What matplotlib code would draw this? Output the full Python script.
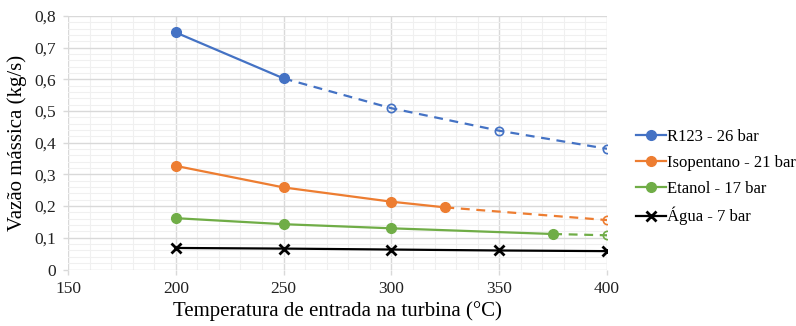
import matplotlib
matplotlib.use("Agg")
import matplotlib.pyplot as plt
from matplotlib.ticker import MultipleLocator, FuncFormatter
from matplotlib.lines import Line2D

plt.rcParams['font.family'] = ['Liberation Serif', 'DejaVu Serif']

labels = ["R123 - 26 bar", "Isopentano - 21 bar", "Etanol - 17 bar", "Água - 7 bar"]
colors = ["#4472c4", "#ed7d31", "#70ad47", "#000000"]

r123_x = [200, 250, 300, 350, 400]
r123_y = [0.748, 0.603, 0.509, 0.438, 0.381]
r123_solid = 2

iso_x = [200, 250, 300, 325, 400]
iso_y = [0.327, 0.259, 0.214, 0.196, 0.156]
iso_solid = 4

eta_x = [200, 250, 300, 375, 400]
eta_y = [0.162, 0.143, 0.130, 0.112, 0.108]
eta_solid = 4

agua_x = [200, 250, 300, 350, 400]
agua_y = [0.068, 0.066, 0.063, 0.060, 0.058]
agua_solid = 5

series = [(r123_x, r123_y, r123_solid), (iso_x, iso_y, iso_solid),
          (eta_x, eta_y, eta_solid), (agua_x, agua_y, agua_solid)]

fig = plt.figure(figsize=(7.96, 3.26), dpi=100)
ax = fig.add_axes([0.0854, 0.1733, 0.6772, 0.7776])

for (xs, ys, ns), c, lab in zip(series, colors, labels):
    marker = 'x' if c == "#000000" else 'o'
    mew = 1 if marker == 'o' else 2
    if ns < len(xs):
        ax.plot(xs[ns-1:], ys[ns-1:], color=c, lw=1.6, ls=(0, (4, 3)), zorder=3)
        ax.plot(xs[ns:], ys[ns:], ls='none', marker='o', ms=6, mfc='none',
                mec=c, mew=1.2, zorder=4)
    ax.plot(xs[:ns], ys[:ns], color=c, lw=1.6, marker=marker, ms=7,
            mew=mew, zorder=5)

ax.set_xlim(150, 400)
ax.set_ylim(0, 0.8)
ax.xaxis.set_major_locator(MultipleLocator(50))
ax.xaxis.set_minor_locator(MultipleLocator(10))
ax.yaxis.set_major_locator(MultipleLocator(0.1))
ax.yaxis.set_minor_locator(MultipleLocator(0.02))
ax.yaxis.set_major_formatter(FuncFormatter(
    lambda v, p: "0" if abs(v) < 1e-9 else f"{v:.1f}".replace('.', ',')))

ax.grid(which='major', color='#d9d9d9', lw=1.0, zorder=0)
ax.grid(which='minor', color='#f0f0f0', lw=0.8, zorder=0)
ax.set_axisbelow(True)
for s in ax.spines.values():
    s.set_visible(False)
ax.tick_params(which='minor', length=0)
ax.tick_params(which='major', length=3.5, width=1.0, color='#d9d9d9',
               labelsize=12.5, labelcolor='#222222', pad=5)

ax.set_xlabel("Temperatura de entrada na turbina (°C)", fontsize=15, labelpad=3)
ax.set_ylabel("Vazão mássica (kg/s)", fontsize=15, labelpad=5)

handles = []
for c in colors:
    m = 'x' if c == "#000000" else 'o'
    handles.append(Line2D([], [], color=c, lw=1.6, marker=m, ms=7,
                          mew=2 if m == 'x' else 1))
leg = fig.legend(handles, labels, loc='upper left', bbox_to_anchor=(0.79, 0.625),
                 frameon=False, fontsize=12, handlelength=1.8, handletextpad=0.1,
                 labelspacing=0.6, borderaxespad=0)

fig.savefig("out.png", dpi=100)
